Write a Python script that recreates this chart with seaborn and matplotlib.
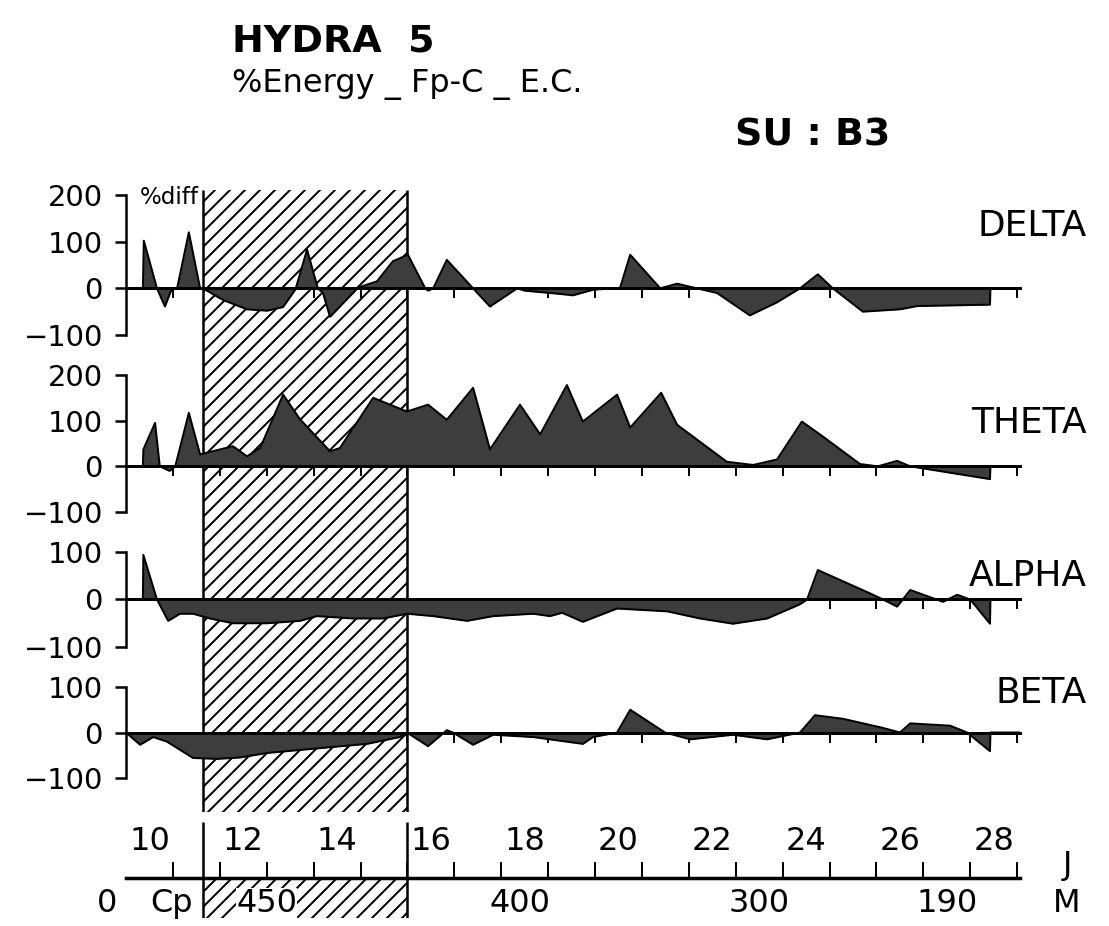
import matplotlib
matplotlib.use("Agg")
import matplotlib.pyplot as plt
import seaborn as sns
import numpy as np

# ---------------- data (x = day scale, 1 unit per day tick) ----------------
delta_t = [9.0, 9.36, 9.38, 9.66, 9.83, 9.98, 10.09, 10.34, 10.58, 10.64, 11.07, 11.58, 12.01, 12.35,
           12.56, 12.62, 12.86, 13.09, 13.20, 13.35, 13.84, 13.93, 14.05, 14.35, 14.69, 15.01, 15.38,
           15.44, 15.55, 15.84, 16.40, 16.76, 17.34, 17.5, 18.25, 18.53, 18.96, 19.4, 19.53, 19.75,
           20.39, 20.75, 21.17, 21.60, 22.30, 22.88, 23.37, 23.75, 24.07, 24.71, 25.50, 25.87, 27.42,
           27.43, 28.06]
delta_v = [0, 0, 102, 0, -39, 0, 0, 120, 0, 0, -25, -45, -48, -40, -10, 0, 83, 0, -10, -61,
           -10, 0, 5, 15, 58, 72, 0, -5, 0, 61, 0, -39, 0, -5, -12, -15, -3, 0, 0, 72,
           0, 10, 0, -10, -58, -30, 0, 30, 0, -50, -45, -38, -35, 0, 0]

theta_t = [9.0, 9.36, 9.37, 9.62, 9.72, 9.93, 10.05, 10.34, 10.58, 10.73, 11.28, 11.58, 11.86, 12.35,
           12.71, 13.35, 13.56, 14.27, 14.99, 15.44, 15.84, 16.40, 16.76, 17.40, 17.83, 18.40, 18.74,
           19.47, 19.75, 20.41, 20.75, 21.81, 22.37, 22.88, 23.41, 23.86, 24.65, 25.03, 25.44, 25.72,
           27.42, 27.43, 28.06]
theta_v = [0, 0, 37, 95, 0, -10, 0, 117, 26, 30, 44, 22, 40, 157, 103, 33, 40, 150, 120, 135,
           102, 172, 37, 135, 70, 178, 98, 157, 85, 161, 91, 10, 3, 15, 98, 65, 5, 0, 12, 0,
           -28, 0, 0]

alpha_t = [9.0, 9.36, 9.37, 9.66, 9.90, 10.15, 10.43, 10.79, 11.28, 12.01, 12.71, 13.07, 13.84, 14.48,
           14.99, 15.55, 16.27, 16.83, 17.68, 18.04, 18.30, 18.74, 19.47, 20.54, 21.24, 21.94, 22.67,
           23.37, 23.52, 23.75, 24.86, 25.14, 25.44, 25.72, 26.42, 26.72, 27.00, 27.42, 27.43, 28.06]
alpha_v = [0, 0, 94, 0, -45, -30, -30, -40, -50, -50, -45, -35, -40, -40, -30, -35, -45, -35, -30, -35,
           -28, -47, -19, -25, -40, -51, -40, -10, 0, 62, 13, 0, -15, 20, -5, 10, 0, -51, 0, 0]

beta_t = [9.0, 9.30, 9.58, 9.87, 10.43, 10.94, 11.43, 12.01, 13.07, 14.14, 14.84, 14.99, 15.44, 15.84,
          15.97, 16.40, 16.83, 17.68, 18.74, 18.96, 19.47, 19.75, 20.49, 21.03, 21.94, 22.67, 23.37,
          23.69, 24.29, 25.14, 25.50, 25.72, 26.57, 26.93, 27.42, 27.43, 28.06]
beta_v = [0, -27, -10, -20, -56, -58, -55, -45, -35, -25, -10, 0, -30, 5, 0, -27, -5, -10, -25, -10,
          0, 50, 0, -15, -5, -15, 0, 38, 30, 10, 0, 20, 15, 0, -41, 0, 0]

band_names = ["DELTA", "THETA", "ALPHA", "BETA"]
day_ticks = list(range(10, 29))
day_labels = [10, 12, 14, 16, 18, 20, 22, 24, 26, 28]
mass_labels = ["0", "Cp", "450", "400", "300", "190"]
mass_pos = [8.6, 9.98, 12.0, 17.4, 22.5, 26.5]
hatch_start, hatch_end = 10.64, 15.0
x_range = (9.0, 28.06)

# ---------------- layout helpers ----------------
W, H, DPI = 1109, 926, 90
def box(x0, y0, x1, y1):
    return [x0 / W, 1 - y1 / H, (x1 - x0) / W, (y1 - y0) / H]
def P(px):
    return px * 72.0 / DPI

sns.set_theme(style="white")
plt.rcParams["font.family"] = ["DejaVu Sans"]
plt.rcParams["hatch.linewidth"] = P(2)
plt.rcParams["hatch.color"] = "black"

fig = plt.figure(figsize=(W / DPI, H / DPI), dpi=DPI)
fig.patch.set_facecolor("white")

# background hatched period
bg = fig.add_axes(box(126, 190, 1020, 812))
bg.set_xlim(*x_range)
bg.set_ylim(0, 1)
bg.axis("off")
bg.axvspan(hatch_start, hatch_end, facecolor="none", edgecolor="black", hatch="//", lw=0)
bg.vlines([hatch_start, hatch_end], 0, 1, color="black", lw=P(2.5))

FILL = "#3d3d3d"
panels = [
    ("DELTA", delta_t, delta_v, (-100, 200), [-100, 0, 100, 200], 195, 335, 226),
    ("THETA", theta_t, theta_v, (-100, 200), [-100, 0, 100, 200], 375, 512, 423),
    ("ALPHA", alpha_t, alpha_v, (-100, 100), [-100, 0, 100], 552, 647, 576),
    ("BETA", beta_t, beta_v, (-100, 100), [-100, 0, 100], 687, 778, 693),
]

for name, t, v, ylim, yt, top, bot, ly in panels:
    ax = fig.add_axes(box(126, top, 1020, bot))
    ax.patch.set_alpha(0)
    ax.set_xlim(*x_range)
    ax.set_ylim(*ylim)
    ax.fill_between(t, 0, v, color=FILL, lw=0, zorder=2)
    sns.lineplot(x=t, y=v, ax=ax, color="black", lw=P(2), sort=False, estimator=None, zorder=3)
    ax.set_xlabel("")
    ax.set_ylabel("")
    for s in ["top", "right"]:
        ax.spines[s].set_visible(False)
    ax.spines["bottom"].set_position(("data", 0))
    ax.spines["bottom"].set_linewidth(P(3))
    ax.spines["bottom"].set_color("black")
    ax.spines["bottom"].set_zorder(4)
    ax.spines["left"].set_linewidth(P(2.5))
    ax.spines["left"].set_color("black")
    ax.set_xticks(day_ticks)
    ax.set_xticklabels([])
    ax.set_yticks(yt)
    ax.set_yticklabels([f"{y:d}".replace("-", "\u2212") for y in yt])
    ax.tick_params(axis="x", direction="out", length=P(10), width=P(2), color="black", bottom=True)
    ax.tick_params(axis="y", direction="out", length=P(11), width=P(2.5), color="black",
                   labelsize=P(29), pad=P(12), left=True, labelcolor="black")
    ax.grid(False)
    fig.text(1087 / W, 1 - ly / H, name, ha="right", va="center", fontsize=P(36), color="black")

fig.text(140 / W, 1 - 197 / H, "%diff", ha="left", va="center", fontsize=P(23), color="black")

# titles
fig.text(232 / W, 1 - 42 / H, "HYDRA  5", ha="left", va="center", fontsize=P(38),
         fontweight="bold", color="black")
fig.text(232 / W, 1 - 84 / H, "%Energy _ Fp-C _ E.C.", ha="left", va="center", fontsize=P(32),
         color="black")
fig.text(735 / W, 1 - 136 / H, "SU : B3", ha="left", va="center", fontsize=P(38),
         fontweight="bold", color="black")

# bottom time / mass axis
bx = fig.add_axes(box(126, 820, 1020, 918))
bx.patch.set_alpha(0)
bx.set_xlim(*x_range)
bx.set_ylim(-40, 58)
for s in ["top", "right", "left"]:
    bx.spines[s].set_visible(False)
bx.spines["bottom"].set_position(("data", 0))
bx.spines["bottom"].set_linewidth(P(3.5))
bx.spines["bottom"].set_color("black")
bx.set_xticks(day_ticks)
bx.set_xticklabels([])
bx.set_yticks([])
bx.tick_params(axis="x", direction="in", length=P(16), width=P(2), color="black", bottom=True)
bx.fill_between([hatch_start, hatch_end], -40, 0, facecolor="none", edgecolor="black",
                hatch="//", lw=0)
bx.vlines([hatch_start, hatch_end], -40, 56, color="black", lw=P(2.5))
for d in day_labels:
    bx.text(d - 0.5, 36, str(d), ha="center", va="center", fontsize=P(32), color="black")
for lab, pos in zip(mass_labels, mass_pos):
    bx.text(pos, -25, lab, ha="center", va="center", fontsize=P(32), color="black",
            bbox=dict(facecolor="white", edgecolor="none", pad=0) if lab == "450" else None)
bx.text(29.06, 13, "J", ha="center", va="center", fontsize=P(32), color="black")
bx.text(29.06, -25, "M", ha="center", va="center", fontsize=P(32), color="black")

fig.savefig("out.png", dpi=DPI, facecolor="white")
